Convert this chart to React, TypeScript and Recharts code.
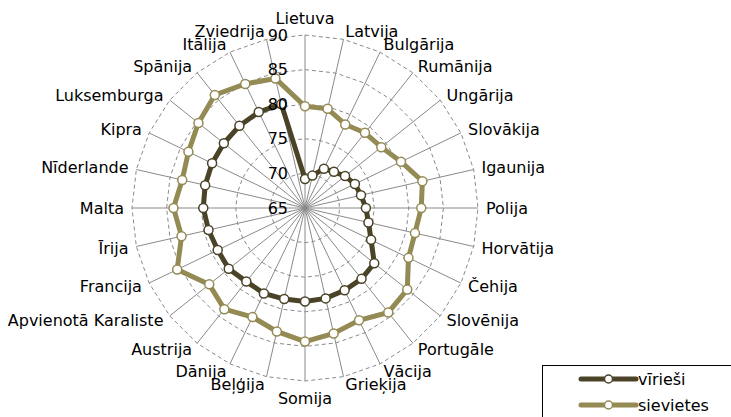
import React from 'react';
import { RadarChart, Radar, PolarGrid, PolarAngleAxis, PolarRadiusAxis, Legend } from 'recharts';

const categories = [
  'Lietuva', 'Latvija', 'Bulgārija', 'Rumānija', 'Ungārija', 'Slovākija', 'Igaunija',
  'Polija', 'Horvātija', 'Čehija', 'Slovēnija', 'Portugāle', 'Vācija', 'Grieķija',
  'Somija', 'Beļģija', 'Dānija', 'Austrija', 'Apvienotā Karaliste', 'Francija', 'Īrija',
  'Malta', 'Nīderlande', 'Kipra', 'Luksemburga', 'Spānija', 'Itālija', 'Zviedrija',
];

const virieshi = [
  69.2, 69.8, 71.3, 71.7, 72.4, 73.0, 73.3,
  73.8, 74.4, 75.6, 77.8, 78.1, 78.2, 78.4,
  78.5, 78.5, 78.7, 78.6, 79.1, 79.0, 79.3,
  79.7, 79.8, 79.9, 80.0, 80.2, 80.4, 80.4,
];

const sievietes = [
  79.7, 79.7, 78.4, 78.9, 79.1, 80.4, 82.4,
  81.8, 81.3, 81.6, 83.9, 84.3, 83.0, 83.6,
  84.3, 83.3, 82.5, 83.7, 82.7, 85.5, 83.3,
  84.0, 83.2, 83.7, 84.7, 85.9, 84.9, 84.2,
];

const radiusTicks = [65, 70, 75, 80, 85, 90];

const seriesNames = ['vīrieši', 'sievietes'];
const COLOR_M = '#4a4328';
const COLOR_W = '#948a54';

const data = categories.map((c, i) => ({ name: c, m: virieshi[i], w: sievietes[i] }));

const CX = 305;
const CY = 208;
const R = 173;
const FS = 16;

function AngleTick(props: any) {
  const { x, y, payload } = props;
  const dx = x - CX;
  const dy = y - CY;
  const d = Math.hypot(dx, dy) || 1;
  const s = dx / d;
  const c = -dy / d;
  let anchor: 'start' | 'end' | 'middle' = 'middle';
  let yy = y;
  if (s > 0.05) anchor = 'start';
  else if (s < -0.05) anchor = 'end';
  else yy = y - c * 9;
  return (
    <text x={x} y={yy} textAnchor={anchor} dominantBaseline="central" fontSize={FS} fill="#000">
      {payload.value}
    </text>
  );
}

function RadiusTick(props: any) {
  const { x, y, payload } = props;
  return (
    <text x={x - 17} y={y} textAnchor="end" dominantBaseline="central" fontSize={FS} fill="#000">
      {payload.value}
    </text>
  );
}

function LegendContent(props: any) {
  const payload = [...(props.payload || [])].sort(
    (a: any, b: any) => seriesNames.indexOf(a.value) - seriesNames.indexOf(b.value)
  );
  return (
    <div style={{ width: 220, height: 70, border: '1px solid #000', background: '#fff', boxSizing: 'border-box' }}>
      <svg width={220} height={70} style={{ display: 'block' }}>
        {payload.map((e: any, i: number) => {
          const yy = 13 + 26 * i;
          return (
            <g key={i}>
              <line x1={38} x2={93} y1={yy} y2={yy} stroke={e.color} strokeWidth={5} strokeLinecap="round" />
              <circle cx={65.5} cy={yy} r={4} fill="#fff" stroke={e.color} strokeWidth={1.5} />
              <text x={95} y={yy} dominantBaseline="central" fontSize={FS} fill="#000">{e.value}</text>
            </g>
          );
        })}
      </svg>
    </div>
  );
}

export default function App() {
  return (
    <div style={{ position: 'absolute', left: 0, top: 0, width: 731, height: 417, overflow: 'hidden', background: '#fff', fontFamily: '"DejaVu Sans", Verdana, sans-serif' }}>
      <RadarChart width={731} height={417} data={data} cx={CX} cy={CY} outerRadius={R} margin={{ top: 0, right: 0, bottom: 0, left: 0 }}>
        <PolarGrid gridType="polygon" radialLines={false} stroke="#8a8a8a" strokeDasharray="4 3" />
        <PolarGrid gridType="polygon" polarRadius={[]} stroke="#8a8a8a" />
        <PolarAngleAxis dataKey="name" tick={<AngleTick />} tickLine={false} axisLine={false} />
        <Radar name={seriesNames[0]} dataKey="m" stroke={COLOR_M} strokeWidth={5} fill="none" fillOpacity={0}
          dot={{ r: 4.5, fill: '#fff', stroke: COLOR_M, strokeWidth: 1.5, fillOpacity: 1 }} isAnimationActive={false} />
        <Radar name={seriesNames[1]} dataKey="w" stroke={COLOR_W} strokeWidth={5} fill="none" fillOpacity={0}
          dot={{ r: 4.5, fill: '#fff', stroke: COLOR_W, strokeWidth: 1.5, fillOpacity: 1 }} isAnimationActive={false} />
        <PolarRadiusAxis angle={90} domain={[65, 90]} ticks={radiusTicks} type="number" tick={<RadiusTick />}
          axisLine={false} tickLine={false} {...({ zIndex: 1000 } as any)} />
        <Legend layout="horizontal" verticalAlign="middle" align="center" content={<LegendContent />}
          itemSorter="dataKey" wrapperStyle={{ left: 542, top: 365, width: 220, height: 70 }} />
      </RadarChart>
    </div>
  );
}
